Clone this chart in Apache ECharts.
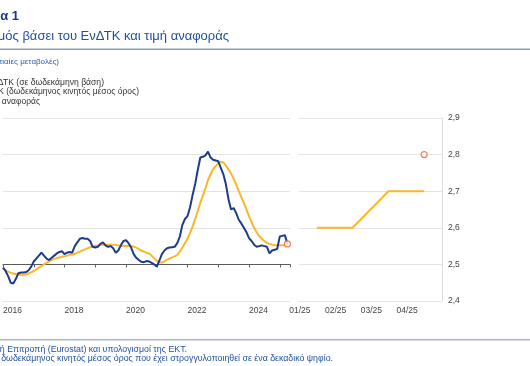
<!DOCTYPE html>
<html>
<head>
<meta charset="utf-8">
<script src="https://cdn.jsdelivr.net/npm/echarts@6.0.0/dist/echarts.min.js"></script>
<style>
html,body{margin:0;padding:0;background:#fff;}
#chart{width:530px;height:366px;}
</style>
</head>
<body>
<div id="chart"></div>
<script>
// ---- Data (monthly, Jan 2016 – Apr 2025) ----
const startYear = 2016;
const rate2016 = [-0.45,-0.9,-1.6,-2.5,-2.6,-2.0,-1.2,-1.1,-1.1,-1.05,-0.8,-0.3];
const rate2017 = [0.4,0.8,1.2,1.6,1.2,0.8,0.6,0.9,1.2,1.5,1.7,1.8];
const rate2018 = [1.4,1.6,1.7,1.6,2.5,3.0,3.5,3.6,3.5,3.5,3.2,2.4];
const rate2019 = [2.3,2.4,2.8,3.0,2.6,2.4,2.5,2.2,1.6,1.9,2.6,3.2];
const rate2020 = [3.3,2.9,2.3,1.4,0.9,0.6,0.35,0.3,0.45,0.4,0.2,0.0];
const rate2021 = [-0.3,0.5,1.4,1.9,2.2,2.3,2.35,2.4,2.9,3.8,5.4,6.2];
const rate2022 = [6.6,7.8,9.5,11.0,12.9,14.6,14.7,14.9,15.4,14.6,14.3,14.2];
const rate2023 = [14.1,13.2,12.3,10.9,8.9,7.5,7.7,7.0,6.1,5.6,5.0,4.4];
const rate2024 = [3.6,3.2,2.7,2.4,2.5,2.6,2.5,2.4,1.5,1.9,2.0,2.1];
const rate2025 = [3.8,3.9,4.0,2.8];

const avg2016 = [-0.5,-0.8,-1.0,-1.15,-1.25,-1.35,-1.4,-1.4,-1.4,-1.35,-1.25,-1.1];
const avg2017 = [-0.9,-0.7,-0.45,-0.25,0.0,0.2,0.4,0.6,0.75,0.85,0.95,1.05];
const avg2018 = [1.1,1.2,1.3,1.35,1.45,1.6,1.75,1.9,2.05,2.2,2.35,2.45];
const avg2019 = [2.55,2.6,2.65,2.7,2.7,2.7,2.7,2.7,2.65,2.6,2.55,2.5];
const avg2020 = [2.5,2.5,2.5,2.4,2.3,2.1,1.9,1.75,1.6,1.5,1.2,0.85];
const avg2021 = [0.5,0.3,0.25,0.4,0.65,0.8,0.95,1.1,1.3,1.75,2.3,2.9];
const avg2022 = [3.5,4.3,5.2,6.2,7.3,8.4,9.4,10.4,11.5,12.3,13.0,13.4];
const avg2023 = [13.8,14.0,13.9,13.5,13.0,12.4,11.7,10.9,10.0,9.2,8.4,7.5];
const avg2024 = [6.6,5.8,5.0,4.4,3.9,3.5,3.2,2.95,2.8,2.7,2.6,2.6];
const avg2025 = [2.6,2.6,2.7,2.7];

const recentMonths = ['01/25','02/25','03/25','04/25'];
const recentAvg = [2.6,2.6,2.7,2.7];
const referenceValue = 2.8;

const leftYTicks = [-5, 0, 5, 10, 15, 20];
const rightYTicks = [2.4, 2.5, 2.6, 2.7, 2.8, 2.9];

const seriesNames = ['ΕνΔΤΚ (σε δωδεκάμηνη βάση)', 'ΕνΔΤΚ (δωδεκάμηνος κινητός μέσος όρος)', 'Τιμή αναφοράς'];

// ---- Build ----
const hicpRate = [].concat(rate2016,rate2017,rate2018,rate2019,rate2020,rate2021,rate2022,rate2023,rate2024,rate2025);
const hicpAvg = [].concat(avg2016,avg2017,avg2018,avg2019,avg2020,avg2021,avg2022,avg2023,avg2024,avg2025);
const rateData = hicpRate.map((v,i)=>[i,v]);
const avgData = hicpAvg.map((v,i)=>[i,v]);
const refLeft = [[hicpRate.length-1, referenceValue]];
const refRight = recentMonths.map((m,i)=> i === recentMonths.length-1 ? referenceValue : null);

const BLUE = '#1d3c8f', YELLOW = '#fbb72a', RED = '#f0643a';
const FONT = 'Liberation Sans, Arial, sans-serif';
const GRID = '#e4e4e4';

const chart = echarts.init(document.getElementById('chart'), null, {renderer:'canvas'});

function txt(text, xRight, y, size, color, weight){
  return {type:'text', x:xRight, y:y, silent:true, style:{text:text, x:0, y:0, align:'right', verticalAlign:'middle', textAlign:'right', textVerticalAlign:'middle', font:(weight||'normal')+' '+size+'px '+FONT, fill:color}};
}

chart.setOption({
  animation:false,
  textStyle:{fontFamily:FONT},
  grid:[
    {left:0, right:240, top:118, bottom:65},
    {left:299, right:88, top:118, bottom:65}
  ],
  xAxis:[
    {type:'value', gridIndex:0, min:0, max:112, interval:12,
     axisLine:{show:true, onZero:true, onZeroAxisIndex:0, lineStyle:{color:'#5a5a5a', width:1}},
     axisTick:{show:true, length:3, lineStyle:{color:'#5a5a5a'}},
     axisLabel:{show:false}, splitLine:{show:false}},
    {type:'value', gridIndex:0, min:0, max:112, interval:24, position:'bottom',
     axisLine:{show:false, onZero:false}, axisTick:{show:false}, splitLine:{show:false},
     axisLabel:{show:true, showMaxLabel:false, align:'left', margin:5, fontSize:8.5, color:'#444',
       formatter:v=> String(startYear + v/12)}},
    {type:'category', gridIndex:1, data:recentMonths, boundaryGap:true,
     axisLine:{show:false}, axisTick:{show:false}, splitLine:{show:false},
     axisLabel:{margin:5, fontSize:8.5, color:'#444', padding:[0,34,0,0]}}
  ],
  yAxis:[
    {type:'value', gridIndex:0, min:leftYTicks[0], max:leftYTicks[leftYTicks.length-1], interval:5,
     axisLine:{show:false}, axisTick:{show:false}, axisLabel:{show:false},
     splitLine:{show:true, lineStyle:{color:GRID, width:1}}},
    {type:'value', gridIndex:1, position:'right', min:rightYTicks[0], max:rightYTicks[rightYTicks.length-1], interval:0.1,
     axisLine:{show:true, lineStyle:{color:'#dedede'}}, axisTick:{show:false},
     axisLabel:{margin:6, fontSize:8.5, color:'#444', formatter:v=>v.toFixed(1).replace('.',',')},
     splitLine:{show:true, lineStyle:{color:GRID, width:1}}}
  ],
  series:[
    {name:seriesNames[0], type:'line', xAxisIndex:0, yAxisIndex:0, data:rateData, showSymbol:false, symbol:'none',
     lineStyle:{color:BLUE, width:2}, itemStyle:{color:BLUE}, z:3},
    {name:seriesNames[1], type:'line', xAxisIndex:0, yAxisIndex:0, data:avgData, showSymbol:false, symbol:'none', smooth:0.3,
     lineStyle:{color:YELLOW, width:2}, itemStyle:{color:YELLOW}, z:2},
    {name:seriesNames[2], type:'scatter', xAxisIndex:0, yAxisIndex:0, data:refLeft, symbol:'circle', symbolSize:6,
     itemStyle:{color:'#fff', borderColor:RED, borderWidth:1.2}, z:5},
    {name:seriesNames[1], type:'line', xAxisIndex:2, yAxisIndex:1, data:recentAvg, showSymbol:false, symbol:'none',
     lineStyle:{color:YELLOW, width:2}, itemStyle:{color:YELLOW}, z:2},
    {name:seriesNames[2], type:'scatter', xAxisIndex:2, yAxisIndex:1, data:refRight, symbol:'circle', symbolSize:6,
     itemStyle:{color:'#fff', borderColor:RED, borderWidth:1.2}, z:5}
  ],
  graphic:[
    txt('Γράφημα 1', 19, 16.5, 13, '#1a3a87', 'bold'),
    txt('Πληθωρισμός βάσει του ΕνΔΤΚ και τιμή αναφοράς', 229, 36, 13, '#1f4f9f'),
    {type:'rect', shape:{x:0, y:48.5, width:530, height:1.5}, style:{fill:'#8e9daf'}, silent:true},
    txt('(ετήσιες ποσοστιαίες μεταβολές)', 59, 61.5, 8, '#2a5aa8'),
    txt(seriesNames[0], 104, 82.5, 8.6, '#333'),
    txt(seriesNames[1], 139, 92, 8.5, '#333'),
    txt(seriesNames[2], 40, 101.5, 8.5, '#333'),
    {type:'rect', shape:{x:0, y:339, width:530, height:1.5}, style:{fill:'#a9b8cb'}, silent:true},
    txt('Πηγές: Ευρωπαϊκή Επιτροπή (Eurostat) και υπολογισμοί της ΕΚΤ.', 187, 350, 8.8, '#1f4f9f'),
    txt('Σημείωση: Ο δωδεκάμηνος κινητός μέσος όρος που έχει στρογγυλοποιηθεί σε ένα δεκαδικό ψηφίο.', 333, 358.5, 8.8, '#1f4f9f')
  ]
});
</script>
</body>
</html>
